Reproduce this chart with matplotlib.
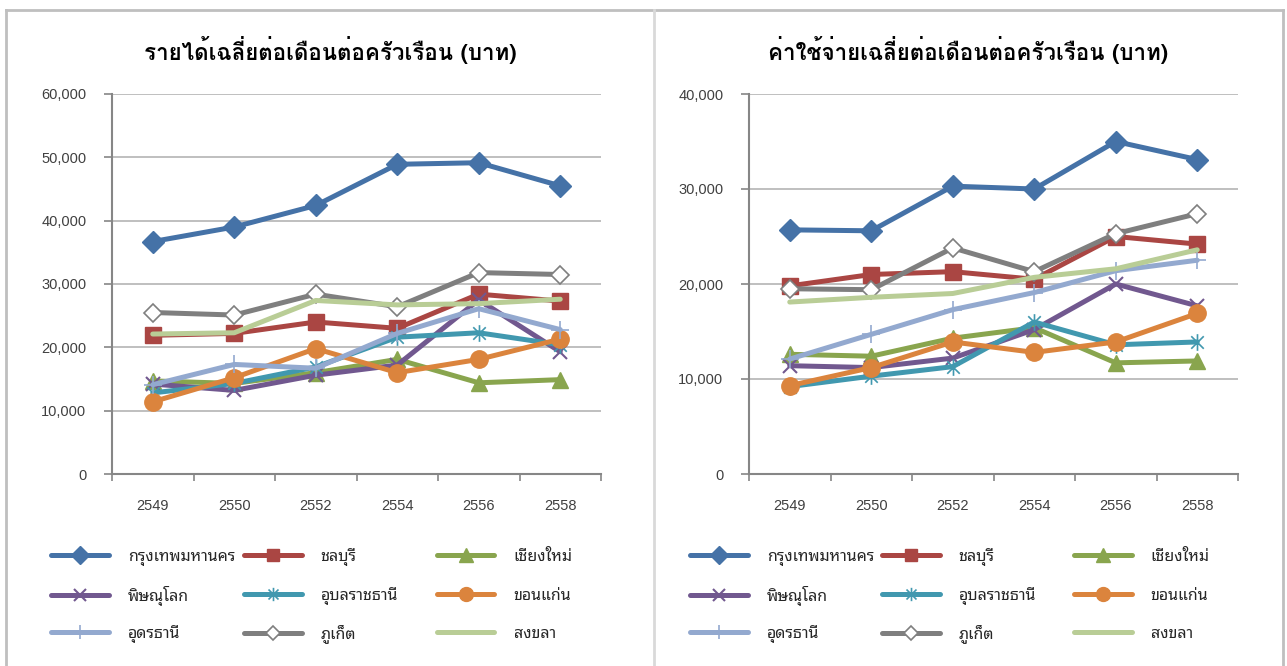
import matplotlib
matplotlib.use("Agg")
import matplotlib.pyplot as plt
from matplotlib import font_manager as fm
from matplotlib.ft2font import FT2Font
from matplotlib.ticker import FuncFormatter, FixedLocator, NullFormatter
from matplotlib.lines import Line2D
from matplotlib.path import Path

# ---------------- data ----------------
years = ['2549', '2550', '2552', '2554', '2556', '2558']
provinces = ['กรุงเทพมหานคร', 'ชลบุรี', 'เชียงใหม่', 'พิษณุโลก', 'อุบลราชธานี',
             'ขอนแก่น', 'อุดรธานี', 'ภูเก็ต', 'สงขลา']

income_bangkok = [36700, 39000, 42400, 48900, 49150, 45500]
income_chonburi = [21900, 22200, 24000, 23000, 28400, 27300]
income_chiangmai = [14700, 14300, 16000, 18100, 14400, 14900]
income_phitsanulok = [14200, 13200, 15600, 17200, 27500, 19300]
income_ubon = [12800, 14300, 16900, 21600, 22300, 20400]
income_khonkaen = [11400, 15200, 19800, 16000, 18100, 21300]
income_udon = [14100, 17300, 16700, 22200, 26100, 22800]
income_phuket = [25500, 25100, 28400, 26400, 31800, 31500]
income_songkhla = [22100, 22300, 27400, 26700, 26900, 27600]

expense_bangkok = [25700, 25600, 30300, 30000, 35000, 33100]
expense_chonburi = [19800, 21000, 21300, 20500, 25000, 24200]
expense_chiangmai = [12600, 12400, 14300, 15400, 11700, 11900]
expense_phitsanulok = [11400, 11200, 12200, 15200, 20000, 17700]
expense_ubon = [9200, 10300, 11300, 16000, 13600, 13900]
expense_khonkaen = [9300, 11200, 13900, 12800, 13900, 16900]
expense_udon = [12100, 14700, 17300, 19100, 21400, 22500]
expense_phuket = [19500, 19400, 23800, 21300, 25300, 27400]
expense_songkhla = [18100, 18600, 19000, 20700, 21600, 23600]

income = [income_bangkok, income_chonburi, income_chiangmai, income_phitsanulok,
          income_ubon, income_khonkaen, income_udon, income_phuket, income_songkhla]
expense = [expense_bangkok, expense_chonburi, expense_chiangmai, expense_phitsanulok,
           expense_ubon, expense_khonkaen, expense_udon, expense_phuket, expense_songkhla]

title_income = 'รายได้เฉลี่ยต่อเดือนต่อครัวเรือน (บาท)'
title_expense = 'ค่าใช้จ่ายเฉลี่ยต่อเดือนต่อครัวเรือน (บาท)'

# ---------------- fonts ----------------
thai_weights = {}
for f in fm.fontManager.ttflist:
    try:
        cmap = FT2Font(f.fname).get_charmap()
    except Exception:
        continue
    if 0x0E01 in cmap and 0x0E48 in cmap:
        w = f.weight if isinstance(f.weight, int) else 700 if 'bold' in str(f.weight) else 400
        thai_weights.setdefault(f.name, set()).add(w)

pref = ['Noto Sans Thai Looped', 'Noto Sans Thai', 'Noto Sans Thai UI', 'Loma', 'Sarabun']
def rank(n):
    if n in pref:
        return pref.index(n)
    if 'Thai' in n and 'Serif' not in n:
        return 20
    return 40

thai_names = sorted(thai_weights, key=rank)
legend_font = thai_names[:1]
bold_names = [n for n in thai_names if any(w >= 600 for w in thai_weights[n])]
title_font = bold_names[:1] if bold_names else legend_font
title_size = 15.8 if title_font and 'Looped' in title_font[0] else 16.1

plt.rcParams['font.family'] = ['Liberation Sans'] + legend_font + ['DejaVu Sans']
legend_family = legend_font + ['Liberation Sans', 'DejaVu Sans']
title_family = title_font + ['Liberation Sans', 'DejaVu Sans']

# ---------------- style ----------------
colors = ['#4572A7', '#AA4643', '#89A54E', '#71588F', '#4198AF',
          '#DB843D', '#93A9CF', '#7F7F7F', '#B9CD96']
asterisk = Path([(0, -1), (0, 1), (-0.75, -0.75), (0.75, 0.75), (-0.75, 0.75), (0.75, -0.75)],
                [Path.MOVETO, Path.LINETO, Path.MOVETO, Path.LINETO, Path.MOVETO, Path.LINETO])
markers = ['D', 's', '^', 'x', asterisk, 'o', '+', 'D', 'None']
msizes = [11, 11.5, 12, 10, 12, 12.5, 13, 9.5, 0]
mews = [1, 1, 1, 1.5, 1.2, 1, 1.2, 1.2, 1]
faces = [None, None, None, None, None, None, None, 'white', None]

W, H = 1287, 666
fig = plt.figure(figsize=(W / 100, H / 100), dpi=100)

def fx(px):
    return px / W

def fy(py):
    return 1 - py / H

# frame
frame_c = '#BFBFBF'
fig.add_artist(Line2D([fx(6), fx(1283)], [fy(10), fy(10)], color=frame_c, lw=2))
fig.add_artist(Line2D([fx(6), fx(6)], [fy(10), 0], color=frame_c, lw=2))
fig.add_artist(Line2D([fx(1283), fx(1283)], [fy(10), 0], color=frame_c, lw=2))
fig.add_artist(Line2D([fx(654), fx(654)], [fy(10), 0], color='#D9D9D9', lw=2))

axis_c = '#868686'
grid_c = '#BFBFBF'

def make_panel(left_px, right_px, data, ymax, title, title_cx, leg_cols):
    ax = fig.add_axes([fx(left_px), fy(474), fx(right_px - left_px), 380 / H])
    x = list(range(len(years)))
    lines = []
    for i, series in enumerate(data):
        kw = dict(color=colors[i], lw=3.6, marker=markers[i], ms=msizes[i],
                  mew=mews[i], solid_capstyle='round', solid_joinstyle='round')
        if faces[i] is not None:
            kw['mfc'] = faces[i]
            kw['mec'] = colors[i]
        ln, = ax.plot(x, series, label=provinces[i], **kw)
        lines.append(ln)
    ax.set_xlim(-0.5, len(years) - 0.5)
    ax.set_ylim(0, ymax)
    ax.set_yticks(range(0, ymax + 1, 10000))
    ax.yaxis.set_major_formatter(FuncFormatter(lambda v, p: f'{int(v):,}'))
    ax.xaxis.set_major_locator(FixedLocator([i - 0.5 for i in range(len(years) + 1)]))
    ax.xaxis.set_major_formatter(NullFormatter())
    ax.xaxis.set_minor_locator(FixedLocator(x))
    ax.set_xticklabels(years, minor=True)
    ax.tick_params(axis='x', which='major', length=5, width=1.2, color=axis_c, direction='out')
    ax.tick_params(axis='x', which='minor', length=0, pad=18, labelsize=10.5, labelcolor='#404040')
    ax.tick_params(axis='y', which='major', length=5.5, width=1.2, color=axis_c, direction='out',
                   pad=13, labelsize=10.5, labelcolor='#404040')
    ax.grid(axis='y', color=grid_c, lw=1.4)
    ax.set_axisbelow(True)
    for s in ['top', 'right']:
        ax.spines[s].set_visible(False)
    for s in ['left', 'bottom']:
        ax.spines[s].set_color(axis_c)
        ax.spines[s].set_linewidth(1.5)
    fig.text(fx(title_cx), fy(50), title, ha='center', va='center', fontsize=title_size,
             fontweight='bold', color='black', family=title_family)
    rows_y = [557, 596, 634]
    for k, ln in enumerate(lines):
        r, c = divmod(k, 3)
        fig.legend(handles=[ln], labels=[provinces[k]], loc='center left',
                   bbox_to_anchor=(fx(leg_cols[c]), fy(rows_y[r])),
                   frameon=False, borderpad=0, borderaxespad=0,
                   handlelength=3.6, handletextpad=1.2, markerscale=0.8,
                   prop={'family': legend_family, 'size': 11.5},
                   labelcolor='#262626')
    return ax

make_panel(112, 601, income, 60000, title_income, 330, [51, 244, 437])
make_panel(749, 1238, expense, 40000, title_expense, 968, [690, 882, 1074])

fig.savefig('out.png', dpi=100)
